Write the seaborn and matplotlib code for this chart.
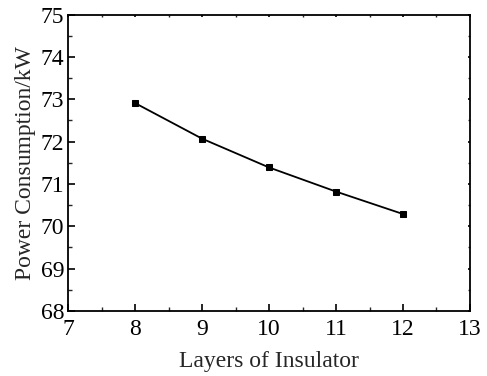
import numpy as np
import pandas as pd
import matplotlib
matplotlib.use("Agg")
import matplotlib.pyplot as plt
import seaborn as sns
from matplotlib.ticker import MultipleLocator

# data
layers = [8, 9, 10, 11, 12]
power_kw = [72.91, 72.07, 71.39, 70.82, 70.29]

df = pd.DataFrame({"layers": layers, "power": power_kw})

sns.set_style("ticks")
plt.rcParams['font.family'] = ['Liberation Serif', 'DejaVu Serif']
plt.rcParams['mathtext.fontset'] = 'stix'

fig = plt.figure(figsize=(4.87, 3.76), dpi=100)
ax = fig.add_axes([0.140, 0.173, 0.825, 0.788])

sns.lineplot(data=df, x="layers", y="power", ax=ax, color="black",
             linewidth=1.3, marker="s", markersize=5, markeredgecolor="black",
             markerfacecolor="black")

ax.set_xlim(7, 13)
ax.set_ylim(68, 75)
ax.xaxis.set_major_locator(MultipleLocator(1))
ax.xaxis.set_minor_locator(MultipleLocator(0.5))
ax.yaxis.set_major_locator(MultipleLocator(1))
ax.yaxis.set_minor_locator(MultipleLocator(0.5))

for s in ax.spines.values():
    s.set_linewidth(1.3)
    s.set_color("black")

ax.tick_params(which="major", direction="in", length=5, width=1.2,
               labelsize=17, colors="black")
ax.tick_params(which="minor", direction="in", length=3, width=1.0)
ax.tick_params(axis="x", which="both", top=True, pad=6)
ax.tick_params(axis="y", which="both", right=True, pad=3)
# ticks on top/right are only tiny marks
for t in ax.xaxis.get_major_ticks() + ax.xaxis.get_minor_ticks():
    t.tick2line.set_markersize(1.5)
for t in ax.yaxis.get_major_ticks() + ax.yaxis.get_minor_ticks():
    t.tick2line.set_markersize(1.5)

ax.set_xlabel("Layers of Insulator", fontsize=17, labelpad=8)
ax.set_ylabel("Power Consumption/kW", fontsize=17, labelpad=3)

fig.savefig("out.png", dpi=100)
